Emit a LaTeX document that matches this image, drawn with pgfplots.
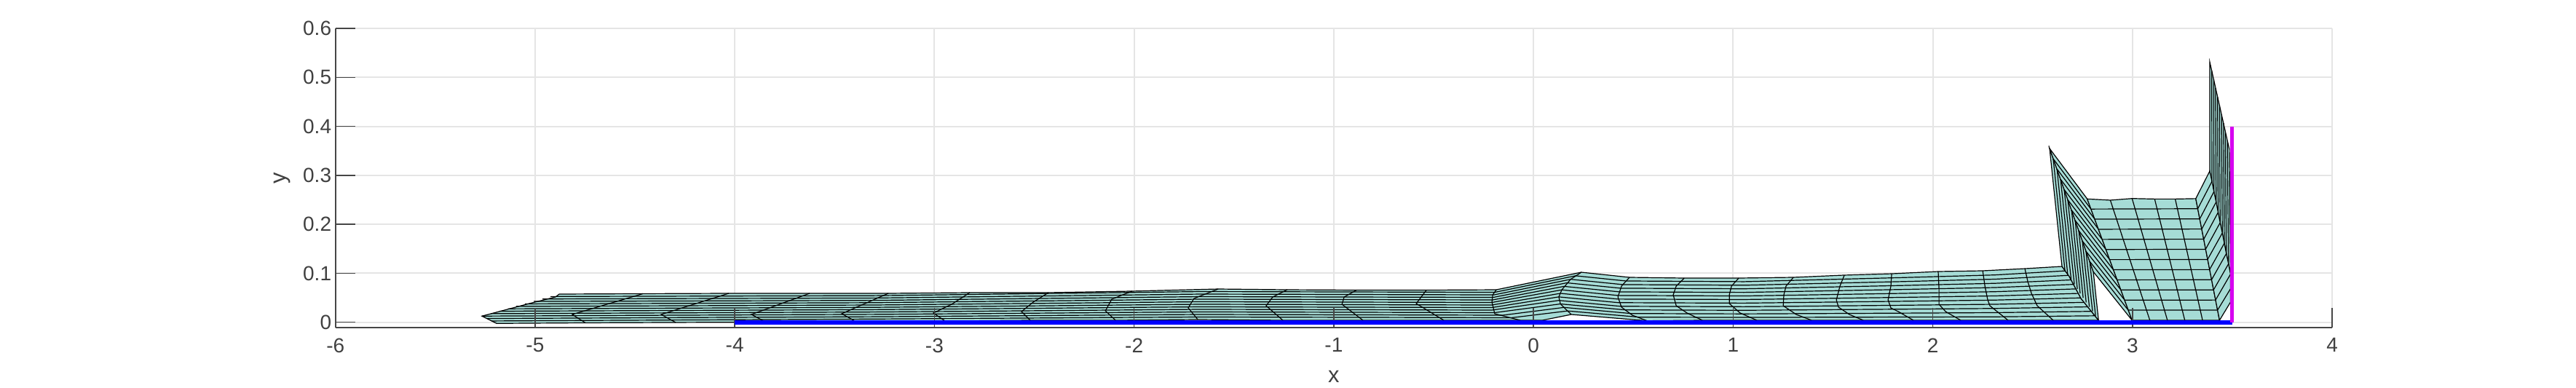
\documentclass[border=0pt]{standalone}
\usepackage{fontspec}
\setmainfont{Liberation Sans}
\usepackage{pgfplots}
\pgfplotsset{compat=1.18}
\definecolor{meshfill}{RGB}{166,220,214}
\definecolor{gridc}{RGB}{229,229,229}
\definecolor{axisc}{RGB}{70,70,70}
\definecolor{labc}{RGB}{64,64,64}
\definecolor{magc}{RGB}{214,0,240}
\pgfplotsset{
  layers/gridbelow/.define layer set={axis background,axis grid,main,axis ticks,axis lines,axis tick labels,axis descriptions,axis foreground}{
    grid style={/pgfplots/on layer=axis grid},
    tick style={/pgfplots/on layer=axis ticks},
    axis line style={/pgfplots/on layer=axis lines},
    label style={/pgfplots/on layer=axis descriptions},
    legend style={/pgfplots/on layer=axis foreground},
    title style={/pgfplots/on layer=axis descriptions},
    colorbar style={/pgfplots/on layer=axis descriptions},
    ticklabel style={/pgfplots/on layer=axis tick labels},
  },
}
\begin{document}
\begin{tikzpicture}
\begin{axis}[
  set layers=gridbelow,
  scale only axis, width=685.6pt, height=102.8pt,
  xmin=-6, xmax=4, ymin=-0.0113, ymax=0.6,
  axis x line*=bottom, axis y line*=left,
  axis line style={-, color=axisc, line width=0.45pt},
  xtick={-6,-5,-4,-3,-2,-1,0,1,2,3,4},
  xticklabels={-6,-5,-4,-3,-2,-1,0,1,2,3,4},
  ytick={0,0.1,0.2,0.3,0.4,0.5,0.6},
  yticklabels={0,0.1,0.2,0.3,0.4,0.5,0.6},
  tick align=inside, major tick length=6.85pt,
  tick style={color=axisc, line width=0.4pt},
  grid=major, grid style={color=gridc, line width=0.5pt},
  tick label style={font=\fontsize{7}{8}\selectfont, text=labc},
  xticklabel style={inner sep=0pt, yshift=-3.4pt},
  yticklabel style={inner sep=0pt, xshift=-1.2pt},
  xlabel={x}, ylabel={y},
  every axis x label/.style={at={(axis description cs:0.5,0)}, anchor=center, yshift=-16.7pt, inner sep=0pt, font=\fontsize{7.7}{9}\selectfont, text=labc},
  every axis y label/.style={at={(axis description cs:0,0.5)}, xshift=-18.2pt, rotate=90, anchor=center, inner sep=0pt, font=\fontsize{7.7}{9}\selectfont, text=labc},
  unbounded coords=jump,
]
% main strip
\addplot[fill=meshfill, draw=black, line width=0.3pt] coordinates {
(-4.879,.0575)(-4.460,.0583)(-4.030,.0590)(-3.625,.0590)(-3.231,.0590)(-2.823,.0605)(-2.429,.0605)(-2.010,.0635)(-1.579,.0679)(-1.233,.0664)(-.886,.0657)(-.536,.0657)(-.186,.0664)(.240,.1021)(.481,.0917)(.755,.0902)(1.028,.0902)(1.302,.0917)(1.557,.0962)(1.794,.0991)(2.027,.1036)(2.250,.1051)(2.461,.1095)(2.647,.1140)
(2.684,.0932)(2.742,.0486)(2.830,.0040)
(2.603,.0040)(2.377,.0040)(2.140,.0040)(1.903,.0040)(1.652,.0040)(1.393,.0040)(1.119,.0040)(.846,.0040)(.569,.0030)(.189,.0159)(.044,.0040)(-.066,.0040)(-.449,.0040)(-.854,.0040)(-1.255,.0040)(-1.681,.0055)(-2.093,.0040)(-2.520,.0040)(-2.947,.0025)(-3.395,.0018)(-3.844,.0003)(-4.296,-.0004)(-4.748,-.0012)(-5.193,-.0024)
(-5.266,.0126)(-5.029,.0382)(-4.898,.0516)
} --cycle;
% main strip, row lines
\addplot[draw=black, line width=0.3pt] coordinates {
(-5.219,.0026)(-3.304,.0066)(-1.663,.0107)(-.110,.0092)(.171,.0231)(.53,.0104)(1.054,.0098)(1.838,.0106)(2.312,.0111)(2.815,.0132)(nan,nan)
(-5.240,.0076)(-3.304,.0113)(-1.663,.0159)(-.153,.0144)(.153,.0303)(.49,.0178)(1.054,.0171)(1.838,.0186)(2.312,.0196)(2.800,.0223)(nan,nan)
(-5.266,.0126)(-3.304,.0161)(-1.663,.0211)(-.194,.0196)(.135,.0374)(.46,.0252)(1.054,.0244)(1.838,.0267)(2.312,.0282)(2.784,.0315)(nan,nan)
(-5.222,.0176)(-3.304,.0209)(-1.663,.0263)(-.208,.0248)(.127,.0446)(.435,.0326)(1.054,.0317)(1.838,.0347)(2.312,.0367)(2.768,.0407)(nan,nan)
(-5.178,.0226)(-3.304,.0257)(-1.663,.0315)(-.208,.0300)(.127,.0518)(.426,.0400)(1.054,.0391)(1.838,.0428)(2.312,.0453)(2.753,.0499)(nan,nan)
(-5.135,.0275)(-3.304,.0304)(-1.663,.0367)(-.208,.0352)(.135,.0590)(.423,.0473)(1.054,.0464)(1.838,.0508)(2.312,.0538)(2.738,.0590)(nan,nan)
(-5.095,.0325)(-3.304,.0352)(-1.663,.0419)(-.208,.0404)(.142,.0662)(.423,.0547)(1.054,.0537)(1.838,.0589)(2.312,.0624)(2.724,.0682)(nan,nan)
(-5.051,.0375)(-3.304,.0400)(-1.663,.0471)(-.204,.0456)(.153,.0733)(.43,.0621)(1.054,.0610)(1.838,.0669)(2.312,.0709)(2.709,.0774)(nan,nan)
(-5.007,.0425)(-3.304,.0447)(-1.663,.0523)(-.201,.0508)(.167,.0805)(.437,.0695)(1.054,.0683)(1.838,.0750)(2.312,.0795)(2.693,.0865)(nan,nan)
(-4.963,.0475)(-3.304,.0495)(-1.663,.0575)(-.197,.0560)(.186,.0877)(.448,.0769)(1.054,.0756)(1.838,.0830)(2.312,.0880)(2.676,.0957)(nan,nan)
(-4.923,.0525)(-3.304,.0543)(-1.663,.0627)(-.194,.0612)(.211,.0949)(.463,.0843)(1.054,.0829)(1.838,.0911)(2.312,.0966)(2.662,.1049)
};
% main strip, column lines
\addplot[draw=black, line width=0.3pt] coordinates {
(-4.460,.0583)(-4.814,.0159)(-4.748,-.0012)(nan,nan)
(-4.030,.0590)(-4.369,.0159)(-4.296,-.0004)(nan,nan)
(-3.625,.0590)(-3.917,.0159)(-3.844,.0003)(nan,nan)
(-3.231,.0590)(-3.465,.0174)(-3.395,.0018)(nan,nan)
(-2.823,.0605)(-2.914,.0367)(-3.005,.0189)(-2.947,.0025)(nan,nan)
(-2.429,.0605)(-2.505,.0412)(-2.564,.0218)(-2.520,.0040)(nan,nan)
(-2.010,.0635)(-2.112,.0471)(-2.144,.0233)(-2.093,.0040)(nan,nan)
(-1.579,.0679)(-1.700,.0486)(-1.729,.0293)(-1.681,.0055)(nan,nan)
(-1.233,.0664)(-1.306,.0516)(-1.339,.0337)(-1.255,.0040)(nan,nan)
(-.886,.0657)(-.948,.0516)(-.959,.0367)(-.854,.0040)(nan,nan)
(-.536,.0657)(-.587,.0382)(-.449,.0040)(nan,nan)
(-.186,.0664)(-.204,.0560)(-.208,.0412)(-.194,.0174)(-.066,.0040)(nan,nan)
(.240,.1021)(.186,.0877)(.142,.0662)(.127,.0518)(.135,.0374)(.189,.0159)(nan,nan)
(.481,.0917)(.441,.0739)(.423,.0516)(.441,.0308)(.495,.0144)(.569,.0030)(nan,nan)
(.755,.0902)(.715,.0739)(.700,.0560)(.715,.0337)(.769,.0189)(.846,.0040)(nan,nan)
(1.028,.0902)(.992,.0739)(.981,.0560)(.981,.0382)(1.035,.0189)(1.119,.0040)(nan,nan)
(1.302,.0917)(1.265,.0739)(1.254,.0560)(1.251,.0337)(1.316,.0159)(1.393,.0040)(nan,nan)
(1.557,.0962)(1.535,.0739)(1.517,.0456)(1.528,.0308)(1.582,.0159)(1.652,.0040)(nan,nan)
(1.794,.0991)(1.790,.0739)(1.776,.0456)(1.790,.0293)(1.827,.0218)(1.903,.0040)(nan,nan)
(2.027,.1036)(2.031,.0679)(2.031,.0367)(2.064,.0218)(2.140,.0040)(nan,nan)
(2.250,.1051)(2.261,.0739)(2.275,.0456)(2.286,.0337)(2.377,.0040)(nan,nan)
(2.461,.1095)(2.476,.0828)(2.494,.0590)(2.523,.0337)(2.603,.0040)
};
% far wall behind the strip
\addplot[fill=meshfill, draw=black, line width=0.3pt] coordinates {
(2.647,.1140)(2.684,.0932)(2.742,.0486)(2.830,.0040)(2.804,.1031)(2.585,.3548)
} --cycle;
\addplot[draw=black, line width=0.3pt] coordinates {
(2.815,.0132)(2.786,.1241)(nan,nan)
(2.800,.0223)(2.767,.1451)(nan,nan)
(2.784,.0315)(2.749,.1660)(nan,nan)
(2.768,.0407)(2.731,.1870)(nan,nan)
(2.753,.0499)(2.713,.2080)(nan,nan)
(2.738,.0590)(2.695,.2290)(nan,nan)
(2.724,.0682)(2.676,.2500)(nan,nan)
(2.709,.0774)(2.658,.2709)(nan,nan)
(2.693,.0865)(2.640,.2919)(nan,nan)
(2.676,.0957)(2.622,.3129)(nan,nan)
(2.662,.1049)(2.603,.3339)
};
% sloping wall
\addplot[fill=meshfill, draw=black, line width=0.3pt] coordinates {
(2.585,.3548)(2.7735,.2518)(2.998,.0040)(2.804,.1031)
} --cycle;
\addplot[draw=black, line width=0.3pt] coordinates {
(2.786,.1241)(2.979,.0247)(nan,nan)
(2.767,.1451)(2.961,.0453)(nan,nan)
(2.749,.1660)(2.942,.0660)(nan,nan)
(2.731,.1870)(2.923,.0866)(nan,nan)
(2.713,.2080)(2.904,.1073)(nan,nan)
(2.695,.2290)(2.886,.1279)(nan,nan)
(2.676,.2500)(2.867,.1486)(nan,nan)
(2.658,.2709)(2.848,.1692)(nan,nan)
(2.640,.2919)(2.830,.1899)(nan,nan)
(2.622,.3129)(2.811,.2105)(nan,nan)
(2.603,.3339)(2.792,.2312)
};
% tall wall at the right, behind
\addplot[fill=meshfill, draw=black, line width=0.3pt] coordinates {
(3.387,.3087)(3.387,.5317)(3.485,.3533)(3.491,.0981)
} --cycle;
\addplot[draw=black, line width=0.3pt] coordinates {
(3.481,.1192)(3.475,.3711)(nan,nan)
(3.470,.1402)(3.465,.3890)(nan,nan)
(3.460,.1613)(3.456,.4068)(nan,nan)
(3.450,.1823)(3.446,.4247)(nan,nan)
(3.439,.2034)(3.436,.4425)(nan,nan)
(3.429,.2245)(3.426,.4603)(nan,nan)
(3.419,.2455)(3.416,.4782)(nan,nan)
(3.408,.2666)(3.407,.4960)(nan,nan)
(3.398,.2876)(3.397,.5139)
};
% central block
\addplot[fill=meshfill, draw=black, line width=0.3pt] coordinates {
(2.7735,.2518)(2.889,.2493)(2.998,.2527)(3.111,.2517)(3.214,.2517)(3.317,.2525)(3.436,.0040)(2.998,.0040)
} --cycle;
\addplot[draw=black, line width=0.3pt] coordinates {
(2.979,.0247)(3.426,.0247)(nan,nan)
(2.961,.0453)(3.416,.0454)(nan,nan)
(2.942,.0660)(3.406,.0661)(nan,nan)
(2.923,.0866)(3.396,.0868)(nan,nan)
(2.904,.1073)(3.386,.1075)(nan,nan)
(2.886,.1279)(3.376,.1282)(nan,nan)
(2.867,.1486)(3.366,.1490)(nan,nan)
(2.848,.1692)(3.357,.1697)(nan,nan)
(2.830,.1899)(3.347,.1904)(nan,nan)
(2.811,.2105)(3.337,.2111)(nan,nan)
(2.792,.2312)(3.327,.2318)(nan,nan)
(2.889,.2493)(3.087,.0040)(nan,nan)
(2.998,.2527)(3.175,.0040)(nan,nan)
(3.111,.2517)(3.262,.0040)(nan,nan)
(3.214,.2517)(3.351,.0040)
};
% fan at the right
\addplot[fill=meshfill, draw=black, line width=0.3pt] coordinates {
(3.317,.2525)(3.387,.3087)(3.398,.2876)(3.408,.2666)(3.419,.2455)(3.429,.2245)(3.439,.2034)(3.450,.1823)(3.460,.1613)(3.470,.1402)(3.481,.1192)(3.491,.0981)(3.491,.0684)(3.491,.0412)(3.436,.0040)
} --cycle;
\addplot[draw=black, line width=0.3pt] coordinates {
(3.426,.0247)(3.491,.0684)(nan,nan)
(3.416,.0454)(3.491,.0981)(nan,nan)
(3.406,.0661)(3.481,.1192)(nan,nan)
(3.396,.0868)(3.470,.1402)(nan,nan)
(3.386,.1075)(3.460,.1613)(nan,nan)
(3.376,.1282)(3.450,.1823)(nan,nan)
(3.366,.1490)(3.439,.2034)(nan,nan)
(3.357,.1697)(3.429,.2245)(nan,nan)
(3.347,.1904)(3.419,.2455)(nan,nan)
(3.337,.2111)(3.408,.2666)(nan,nan)
(3.327,.2318)(3.398,.2876)
};
% wall boundaries
\addplot[draw=blue, line width=1.5pt, on layer=axis foreground] coordinates {(-4,0)(3.5,0)};
\addplot[draw=magc, line width=1.25pt, on layer=axis foreground] coordinates {(3.5,0)(3.5,0.4)};
\end{axis}
\path (-115.175pt,-20.675pt) rectangle (769.325pt,112.575pt);
\end{tikzpicture}
\end{document}
